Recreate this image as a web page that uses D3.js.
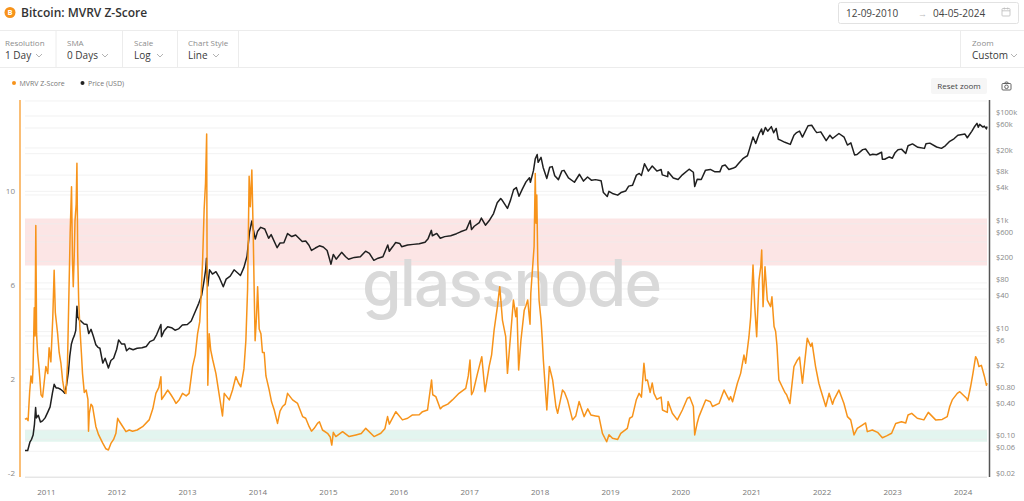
<!DOCTYPE html>
<html>
<head>
<meta charset="utf-8">
<script src="https://cdn.jsdelivr.net/npm/d3@7"></script>
<style>
  body { margin: 0; background: #fff; font-family: "Open Sans", "Noto Sans", sans-serif; }
  svg { display: block; }
</style>
</head>
<body>
<div id="chart"></div>
<script>
// MVRV Z-Score (left axis)
const zScoreData = [
  ["2010-09-12",0.45],["2010-09-20",0.5],["2010-09-28",0.4],["2010-10-06",1.6],["2010-10-13",2.3],
  ["2010-10-20",2.0],["2010-10-24",2.7],["2010-10-30",5.2],["2010-11-03",4.0],["2010-11-07",8.7],
  ["2010-11-11",4.1],["2010-11-16",3.3],["2010-11-24",2.6],["2010-12-04",1.5],["2010-12-12",1.4],
  ["2010-12-20",2.0],["2010-12-29",2.7],["2011-01-08",2.4],["2011-01-15",3.5],["2011-01-24",2.9],
  ["2011-02-03",4.8],["2011-02-10",6.8],["2011-02-16",5.0],["2011-02-28",4.1],["2011-03-08",3.3],
  ["2011-03-17",2.85],["2011-03-26",2.1],["2011-04-03",1.7],["2011-04-12",1.55],["2011-04-20",2.8],
  ["2011-04-26",5.2],["2011-05-04",8.4],["2011-05-11",10.35],["2011-05-16",7.2],["2011-05-20",6.1],
  ["2011-05-25",7.4],["2011-05-29",8.9],["2011-06-04",9.6],["2011-06-08",11.35],["2011-06-12",7.5],
  ["2011-06-17",5.5],["2011-06-23",4.4],["2011-07-01",3.3],["2011-07-07",2.4],["2011-07-16",1.6],
  ["2011-07-26",1.7],["2011-08-04",1.3],["2011-08-07",-0.05],["2011-08-11",0.7],["2011-08-20",1.1],
  ["2011-08-28",1.0],["2011-09-05",0.6],["2011-09-14",0.15],["2011-09-28",-0.2],["2011-10-19",-0.55],
  ["2011-11-05",-0.8],["2011-11-18",-0.85],["2011-12-01",-0.57],["2011-12-15",-0.4],["2011-12-27",-0.14],
  ["2012-01-05",0.5],["2012-01-15",0.35],["2012-01-31",0.15],["2012-02-17",-0.07],["2012-03-05",0.0],
  ["2012-03-22",-0.05],["2012-04-15",0.0],["2012-05-13",0.14],["2012-06-16",0.43],["2012-07-05",0.9],
  ["2012-07-21",1.56],["2012-08-05",1.8],["2012-08-16",2.27],["2012-08-20",1.3],["2012-09-05",1.5],
  ["2012-09-20",1.7],["2012-10-07",1.5],["2012-10-22",1.3],["2012-11-02",1.13],["2012-11-20",1.3],
  ["2012-12-06",1.56],["2012-12-25",1.45],["2013-01-09",1.56],["2013-01-27",2.7],["2013-02-10",3.2],
  ["2013-02-22",4.1],["2013-03-05",4.6],["2013-03-11",5.5],["2013-03-20",7.2],["2013-03-28",9.4],
  ["2013-04-04",10.5],["2013-04-10",12.6],["2013-04-13",5.0],["2013-04-16",1.9],["2013-04-23",4.1],
  ["2013-05-01",3.4],["2013-05-11",3.0],["2013-05-28",2.4],["2013-06-12",1.6],["2013-07-01",0.6],
  ["2013-07-10",1.56],["2013-07-25",1.4],["2013-08-05",1.28],["2013-08-22",1.7],["2013-09-08",2.27],
  ["2013-09-22",2.0],["2013-10-04",1.84],["2013-10-20",2.6],["2013-10-30",3.8],["2013-11-08",6.0],
  ["2013-11-16",10.8],["2013-11-22",9.5],["2013-11-30",11.06],["2013-12-07",8.4],["2013-12-12",6.0],
  ["2013-12-17",3.8],["2013-12-24",4.8],["2013-12-30",6.1],["2014-01-07",4.3],["2014-01-16",4.1],
  ["2014-01-24",3.3],["2014-02-02",3.3],["2014-02-11",2.3],["2014-02-28",1.7],["2014-03-12",1.2],
  ["2014-03-26",0.85],["2014-04-12",0.28],["2014-04-25",0.8],["2014-05-08",1.0],["2014-05-22",1.1],
  ["2014-06-03",1.56],["2014-06-29",1.28],["2014-07-25",1.13],["2014-08-20",0.57],["2014-09-05",0.5],
  ["2014-09-23",0.14],["2014-10-05",-0.05],["2014-10-19",0.07],["2014-11-05",0.28],["2014-11-15",0.35],
  ["2014-12-01",0.0],["2014-12-27",-0.14],["2015-01-10",-0.3],["2015-01-18",-0.64],["2015-01-26",-0.1],
  ["2015-02-08",-0.28],["2015-03-15",-0.07],["2015-04-18",-0.28],["2015-05-23",-0.21],["2015-06-20",-0.15],
  ["2015-07-13",0.07],["2015-08-25",-0.28],["2015-09-29",-0.14],["2015-10-20",0.05],["2015-11-03",0.57],
  ["2015-11-12",0.25],["2015-12-16",0.78],["2016-01-19",0.43],["2016-02-15",0.5],["2016-03-11",0.64],
  ["2016-04-15",0.65],["2016-05-02",0.78],["2016-05-28",0.85],["2016-06-18",2.13],["2016-06-24",1.5],
  ["2016-07-10",1.42],["2016-08-02",0.9],["2016-08-14",1.0],["2016-09-10",1.1],["2016-10-04",1.28],
  ["2016-11-07",1.56],["2016-12-12",1.77],["2016-12-25",2.3],["2017-01-03",2.98],["2017-01-11",1.5],
  ["2017-01-20",1.65],["2017-02-11",2.41],["2017-03-05",3.12],["2017-03-22",1.63],["2017-04-12",2.7],
  ["2017-04-25",3.2],["2017-05-08",4.26],["2017-05-25",5.25],["2017-06-06",6.1],["2017-06-12",5.5],
  ["2017-06-20",4.68],["2017-07-07",3.97],["2017-07-16",2.41],["2017-07-24",3.2],["2017-08-02",4.11],
  ["2017-08-16",5.53],["2017-08-22",5.2],["2017-08-28",4.82],["2017-09-03",5.2],["2017-09-12",2.55],
  ["2017-09-24",3.83],["2017-10-11",5.1],["2017-10-20",5.3],["2017-10-29",5.53],["2017-11-06",4.82],
  ["2017-11-10",4.5],["2017-11-14",5.82],["2017-11-26",7.23],["2017-12-01",7.8],["2017-12-07",10.92],
  ["2017-12-11",8.8],["2017-12-15",10.0],["2017-12-20",7.2],["2017-12-27",5.5],["2018-01-06",4.68],
  ["2018-01-12",3.9],["2018-01-18",2.98],["2018-02-05",0.85],["2018-02-18",2.7],["2018-03-07",2.13],
  ["2018-03-24",1.0],["2018-04-02",0.71],["2018-04-27",1.7],["2018-05-08",1.6],["2018-05-23",1.28],
  ["2018-06-18",0.43],["2018-07-05",0.6],["2018-07-22",1.21],["2018-08-17",0.57],["2018-09-05",0.9],
  ["2018-09-21",0.64],["2018-10-15",0.6],["2018-11-02",0.57],["2018-11-20",-0.14],["2018-12-12",-0.5],
  ["2018-12-24",-0.2],["2019-01-11",-0.35],["2019-02-07",-0.4],["2019-02-23",-0.14],["2019-03-29",0.07],
  ["2019-04-10",0.5],["2019-04-24",0.57],["2019-05-15",1.3],["2019-05-29",1.56],["2019-06-10",1.4],
  ["2019-06-23",2.84],["2019-07-02",2.1],["2019-07-11",2.13],["2019-07-25",1.6],["2019-08-05",2.0],
  ["2019-08-14",1.56],["2019-08-29",1.3],["2019-09-20",1.4],["2019-09-27",0.85],["2019-10-22",0.75],
  ["2019-10-26",1.21],["2019-11-17",0.71],["2019-12-13",0.43],["2020-01-08",0.85],["2020-02-03",1.35],
  ["2020-02-15",1.4],["2020-03-05",1.0],["2020-03-12",-0.21],["2020-03-25",0.3],["2020-04-03",0.57],
  ["2020-05-08",1.28],["2020-06-01",1.2],["2020-06-12",1.0],["2020-07-16",1.13],["2020-08-11",1.7],
  ["2020-09-06",1.28],["2020-09-14",1.42],["2020-09-24",1.2],["2020-10-19",1.99],["2020-11-05",2.41],
  ["2020-11-22",3.19],["2020-12-01",2.84],["2020-12-18",3.97],["2020-12-27",4.82],["2021-01-08",7.02],
  ["2021-01-17",5.25],["2021-01-27",3.97],["2021-02-08",6.38],["2021-02-17",6.95],["2021-02-22",7.66],
  ["2021-03-01",5.25],["2021-03-11",6.95],["2021-03-23",5.53],["2021-04-09",5.25],["2021-04-16",5.67],
  ["2021-04-27",4.4],["2021-05-05",4.2],["2021-05-12",3.6],["2021-05-22",2.13],["2021-06-08",1.84],
  ["2021-06-22",1.6],["2021-07-01",1.5],["2021-07-18",1.13],["2021-08-08",2.7],["2021-08-26",2.98],
  ["2021-09-06",3.1],["2021-09-21",1.99],["2021-10-16",3.9],["2021-11-03",3.55],["2021-11-10",3.7],
  ["2021-11-28",2.7],["2021-12-15",1.99],["2021-12-25",1.7],
  ["2022-01-20",1.0],["2022-02-06",1.56],["2022-02-24",1.1],["2022-03-03",1.28],["2022-03-29",1.7],
  ["2022-04-24",1.13],["2022-05-12",0.57],["2022-05-29",0.43],["2022-06-15",-0.21],["2022-07-02",0.07],
  ["2022-07-28",0.21],["2022-08-14",0.3],["2022-08-23",-0.07],["2022-09-18",0.0],["2022-10-15",-0.1],
  ["2022-11-09",-0.33],["2022-12-01",-0.25],["2022-12-27",-0.14],["2023-01-17",0.28],["2023-02-16",0.35],
  ["2023-03-10",0.3],["2023-03-22",0.64],["2023-04-10",0.71],["2023-05-09",0.5],["2023-06-12",0.43],
  ["2023-07-05",0.75],["2023-08-12",0.43],["2023-09-15",0.45],["2023-10-11",0.57],["2023-10-24",1.0],
  ["2023-11-06",1.28],["2023-12-02",1.56],["2023-12-15",1.63],["2024-01-19",1.35],["2024-01-25",1.25],
  ["2024-02-09",1.84],["2024-02-21",2.4],["2024-03-06",3.12],["2024-03-14",3.0],["2024-03-23",2.7],
  ["2024-04-05",2.75],["2024-04-20",2.3],["2024-05-01",1.9],["2024-05-04",2.0]
];

// BTC price in USD (right log axis)
const priceData = [
  ["2010-09-12",0.062],["2010-09-26",0.062],["2010-10-08",0.09],["2010-10-16",0.10],["2010-10-24",0.12],
  ["2010-10-31",0.19],["2010-11-06",0.39],["2010-11-10",0.25],["2010-11-20",0.28],["2010-12-01",0.21],
  ["2010-12-12",0.22],["2010-12-25",0.25],["2011-01-08",0.32],["2011-01-20",0.40],["2011-02-01",0.72],
  ["2011-02-10",1.05],["2011-02-20",0.90],["2011-03-01",0.90],["2011-03-15",0.85],["2011-03-28",0.78],
  ["2011-04-05",0.72],["2011-04-15",1.0],["2011-04-25",1.8],["2011-05-02",3.5],["2011-05-10",5.8],
  ["2011-05-18",7.3],["2011-05-26",8.5],["2011-06-02",10.5],["2011-06-08",29.6],["2011-06-12",19.0],
  ["2011-06-20",16.5],["2011-07-01",15.4],["2011-07-15",13.8],["2011-07-30",13.5],["2011-08-08",9.2],
  ["2011-08-20",11.0],["2011-09-01",8.2],["2011-09-14",5.7],["2011-09-25",5.1],["2011-10-05",4.9],
  ["2011-10-20",2.6],["2011-11-01",3.2],["2011-11-18",2.1],["2011-12-01",2.9],["2011-12-15",3.2],
  ["2011-12-31",4.7],["2012-01-10",7.0],["2012-01-25",5.9],["2012-02-10",5.9],["2012-02-20",4.4],
  ["2012-03-05",4.9],["2012-03-25",4.6],["2012-04-15",4.9],["2012-05-10",5.0],["2012-06-01",5.3],
  ["2012-06-20",6.5],["2012-07-10",7.0],["2012-07-25",8.8],["2012-08-16",13.5],["2012-08-19",8.0],
  ["2012-09-01",10.2],["2012-09-20",12.3],["2012-10-10",11.8],["2012-10-28",10.6],["2012-11-15",11.2],
  ["2012-12-05",13.2],["2012-12-31",13.5],["2013-01-20",15.7],["2013-02-10",23.5],["2013-02-28",33.4],
  ["2013-03-15",47],["2013-03-28",90],["2013-04-05",142],["2013-04-09",230],["2013-04-12",100],
  ["2013-04-16",70],["2013-04-25",140],["2013-05-10",117],["2013-05-28",129],["2013-06-15",100],
  ["2013-07-05",68],["2013-07-20",94],["2013-08-10",107],["2013-08-30",140],["2013-09-15",125],
  ["2013-10-02",110],["2013-10-20",155],["2013-11-05",250],["2013-11-18",700],["2013-11-30",1130],
  ["2013-12-07",800],["2013-12-18",520],["2013-12-30",730],["2014-01-15",860],["2014-02-05",800],
  ["2014-02-25",540],["2014-03-10",630],["2014-04-10",360],["2014-04-25",440],["2014-05-15",445],
  ["2014-06-03",660],["2014-06-25",580],["2014-07-15",620],["2014-08-18",470],["2014-09-05",480],
  ["2014-09-22",400],["2014-10-05",320],["2014-10-25",355],["2014-11-15",390],["2014-12-05",370],
  ["2014-12-25",320],["2015-01-14",178],["2015-01-26",270],["2015-02-10",220],["2015-03-10",295],
  ["2015-03-31",245],["2015-04-15",220],["2015-05-15",238],["2015-06-15",245],["2015-07-12",310],
  ["2015-08-01",282],["2015-08-24",210],["2015-09-15",230],["2015-10-10",245],["2015-11-04",405],
  ["2015-11-12",310],["2015-11-30",378],["2015-12-15",450],["2016-01-05",432],["2016-01-15",375],
  ["2016-02-15",405],["2016-03-15",415],["2016-04-15",428],["2016-05-15",455],["2016-05-31",530],
  ["2016-06-17",755],["2016-06-22",600],["2016-07-15",662],["2016-08-02",540],["2016-08-25",578],
  ["2016-09-25",602],["2016-10-25",655],["2016-11-15",710],["2016-12-15",780],["2017-01-04",1150],
  ["2017-01-11",780],["2017-01-25",900],["2017-02-20",1050],["2017-03-03",1280],["2017-03-24",940],
  ["2017-04-15",1180],["2017-05-05",1550],["2017-05-24",2450],["2017-06-11",2950],["2017-06-20",2700],
  ["2017-07-16",1930],["2017-08-01",2750],["2017-08-17",4300],["2017-08-31",4700],["2017-09-14",3250],
  ["2017-10-01",4400],["2017-10-20",6000],["2017-11-07",7150],["2017-11-12",5900],["2017-11-28",9800],
  ["2017-12-07",16000],["2017-12-17",19300],["2017-12-22",13800],["2018-01-06",17100],["2018-01-17",11100],
  ["2018-02-05",6950],["2018-02-20",11200],["2018-03-05",11500],["2018-03-18",7800],["2018-04-06",6600],
  ["2018-04-24",9600],["2018-05-05",9800],["2018-05-28",7100],["2018-06-28",5900],["2018-07-24",8300],
  ["2018-08-14",6200],["2018-09-04",7400],["2018-09-25",6400],["2018-10-15",6600],["2018-11-13",6300],
  ["2018-11-25",3800],["2018-12-15",3200],["2018-12-24",4000],["2019-01-15",3600],["2019-02-07",3400],
  ["2019-02-24",3800],["2019-03-20",4050],["2019-04-05",5000],["2019-04-25",5200],["2019-05-15",8000],
  ["2019-05-30",8600],["2019-06-10",7900],["2019-06-26",13000],["2019-07-16",9500],["2019-08-05",11800],
  ["2019-08-29",9500],["2019-09-20",10200],["2019-09-26",8100],["2019-10-24",7500],["2019-10-26",9250],
  ["2019-11-22",7100],["2019-12-17",6650],["2020-01-08",8100],["2020-02-12",10300],["2020-03-05",9050],
  ["2020-03-12",4900],["2020-03-25",6700],["2020-04-15",6650],["2020-05-07",9900],["2020-06-01",10200],
  ["2020-06-25",9200],["2020-07-20",9200],["2020-08-01",11800],["2020-08-17",12300],["2020-09-05",10200],
  ["2020-09-25",10700],["2020-10-10",11300],["2020-10-25",13100],["2020-11-15",16000],["2020-11-26",17100],
  ["2020-12-10",18300],["2020-12-20",23800],["2021-01-08",40800],["2021-01-22",30800],["2021-02-08",46400],
  ["2021-02-21",57500],["2021-02-28",45200],["2021-03-13",61200],["2021-03-25",52300],["2021-04-13",63500],
  ["2021-04-25",49000],["2021-05-08",58800],["2021-05-19",37000],["2021-05-30",35700],["2021-06-22",32500],
  ["2021-07-20",29800],["2021-08-08",44000],["2021-08-22",49300],["2021-09-06",52600],["2021-09-21",40700],
  ["2021-10-20",66000],["2021-11-08",67500],["2021-11-26",53600],["2021-12-04",49200],["2021-12-25",50800],
  ["2022-01-22",35000],["2022-02-10",44000],["2022-02-24",38300],["2022-03-29",47400],["2022-04-25",40400],
  ["2022-05-12",28900],["2022-05-30",31700],["2022-06-18",19000],["2022-07-01",19300],["2022-07-30",23800],
  ["2022-08-14",24400],["2022-09-06",18800],["2022-09-20",19500],["2022-10-10",19100],["2022-11-05",21300],
  ["2022-11-09",15800],["2022-11-21",15800],["2022-12-15",17400],["2022-12-31",16500],["2023-01-14",20900],
  ["2023-01-29",23700],["2023-02-16",24300],["2023-03-10",20200],["2023-03-22",28100],["2023-04-14",30400],
  ["2023-05-12",26300],["2023-06-15",25100],["2023-06-23",30700],["2023-07-13",31400],["2023-08-17",26600],
  ["2023-09-11",25100],["2023-10-01",28000],["2023-10-24",33900],["2023-11-15",37800],["2023-12-05",44000],
  ["2024-01-11",46300],["2024-01-23",39500],["2024-02-15",52000],["2024-02-28",62500],["2024-03-13",73100],
  ["2024-03-20",62000],["2024-03-27",69900],["2024-04-13",62300],["2024-04-20",64900],["2024-05-01",57700],
  ["2024-05-04",63900]
];

const zTicks = [-2, 2, 6, 10];
const priceTicks = [0.02, 0.06, 0.1, 0.4, 0.8, 2, 6, 10, 40, 80, 200, 600, 1000, 4000, 8000, 20000, 60000, 100000];
const yearTicks = d3.range(2011, 2025);
const redBand = [7, 9];
const greenBand = [-0.5, 0];

const parse = d3.timeParse("%Y-%m-%d");
const zSeries = zScoreData.map(d => ({ date: parse(d[0]), v: d[1] }));
const pSeries = priceData.map(d => ({ date: parse(d[0]), v: d[1] }));

const W = 1024, H = 501;
const plot = { left: 25, right: 987, top: 101, bottom: 477 };

const svg = d3.select("#chart").append("svg")
  .attr("width", W).attr("height", H)
  .style("font-family", '"Open Sans", "Noto Sans", sans-serif');

const x = d3.scaleTime()
  .domain([parse("2010-09-12"), parse("2024-05-04")])
  .range([plot.left, plot.right]);
const yZ = d3.scaleLinear().domain([-2, 14]).range([plot.bottom, plot.top]);
const yP = d3.scaleLog().domain([0.02, 190000]).range([plot.bottom, plot.top]);

// ---------- header ----------
svg.append("circle").attr("cx", 10).attr("cy", 12.5).attr("r", 5.5).attr("fill", "#f7931a");
svg.append("text").attr("x", 10).attr("y", 15.3).attr("text-anchor", "middle")
  .attr("font-size", 7.5).attr("font-weight", 700).attr("fill", "#fff").text("B");
svg.append("text").attr("x", 21).attr("y", 17).attr("font-size", 12).attr("font-weight", 600)
  .attr("fill", "#333").text("Bitcoin: MVRV Z-Score");

// date range box
svg.append("rect").attr("x", 838.5).attr("y", 2.5).attr("width", 180).attr("height", 21)
  .attr("fill", "#fff").attr("stroke", "#e2e2e2").attr("rx", 2);
svg.append("text").attr("x", 846).attr("y", 16.5).attr("font-size", 10).attr("fill", "#444").text("12-09-2010");
svg.append("text").attr("x", 918).attr("y", 16.5).attr("font-size", 9).attr("fill", "#bbb").text("→");
svg.append("text").attr("x", 933).attr("y", 16.5).attr("font-size", 10).attr("fill", "#444").text("04-05-2024");
const cal = svg.append("g").attr("transform", "translate(1002,8.5)").attr("fill", "none").attr("stroke", "#bbb").attr("stroke-width", 0.8);
cal.append("rect").attr("width", 8).attr("height", 7.5).attr("rx", 0.8);
cal.append("line").attr("x1", 0).attr("x2", 8).attr("y1", 2.3).attr("y2", 2.3);
cal.append("line").attr("x1", 2.3).attr("x2", 2.3).attr("y1", -1).attr("y2", 1);
cal.append("line").attr("x1", 5.7).attr("x2", 5.7).attr("y1", -1).attr("y2", 1);

// controls row
svg.append("line").attr("x1", 0).attr("x2", W).attr("y1", 30.5).attr("y2", 30.5).attr("stroke", "#ececec");
svg.append("line").attr("x1", 0).attr("x2", W).attr("y1", 67.5).attr("y2", 67.5).attr("stroke", "#ececec");
[56, 122.5, 177.5, 238.5, 960.5].forEach(sx => {
  svg.append("line").attr("x1", sx).attr("x2", sx).attr("y1", 30.5).attr("y2", 67.5).attr("stroke", "#ececec");
});

const controls = [
  { label: "Resolution", value: "1 Day", x: 5, chev: 39 },
  { label: "SMA", value: "0 Days", x: 67, chev: 105 },
  { label: "Scale", value: "Log", x: 134, chev: 160 },
  { label: "Chart Style", value: "Line", x: 188, chev: 216 },
  { label: "Zoom", value: "Custom", x: 972, chev: 1014 }
];
controls.forEach(c => {
  svg.append("text").attr("x", c.x).attr("y", 45.5).attr("font-size", 8).attr("fill", "#8c8c8c").text(c.label);
  svg.append("text").attr("x", c.x).attr("y", 59).attr("font-size", 10).attr("fill", "#3a3a3a").text(c.value);
  svg.append("path").attr("d", `M${c.chev - 3},54 L${c.chev},57 L${c.chev + 3},54`)
    .attr("fill", "none").attr("stroke", "#aaa").attr("stroke-width", 0.9);
});

// legend
svg.append("circle").attr("cx", 14).attr("cy", 83).attr("r", 2).attr("fill", "#f7931a");
svg.append("text").attr("x", 19.5).attr("y", 85.5).attr("font-size", 7).attr("fill", "#777").text("MVRV Z-Score");
svg.append("circle").attr("cx", 82.5).attr("cy", 83).attr("r", 2).attr("fill", "#222");
svg.append("text").attr("x", 88).attr("y", 85.5).attr("font-size", 7).attr("fill", "#777").text("Price (USD)");

// reset zoom + camera
svg.append("rect").attr("x", 931).attr("y", 78).attr("width", 56).attr("height", 16).attr("rx", 2).attr("fill", "#f6f6f6");
svg.append("text").attr("x", 959).attr("y", 89).attr("text-anchor", "middle").attr("font-size", 8).attr("fill", "#444").text("Reset zoom");
const cam = svg.append("g").attr("transform", "translate(1002,82)").attr("fill", "none").attr("stroke", "#555").attr("stroke-width", 0.9);
cam.append("rect").attr("x", 0).attr("y", 1.5).attr("width", 9).attr("height", 6.5).attr("rx", 1);
cam.append("circle").attr("cx", 4.5).attr("cy", 4.8).attr("r", 1.8);
cam.append("path").attr("d", "M2.5,1.5 L3.5,0 L5.5,0 L6.5,1.5");

// ---------- plot ----------
const bands = svg.append("g");
bands.append("rect").attr("x", plot.left).attr("width", plot.right - plot.left)
  .attr("y", yZ(redBand[1])).attr("height", yZ(redBand[0]) - yZ(redBand[1]))
  .attr("fill", "#fbdcdc").attr("opacity", 0.75);
bands.append("rect").attr("x", plot.left).attr("width", plot.right - plot.left)
  .attr("y", yZ(greenBand[1])).attr("height", yZ(greenBand[0]) - yZ(greenBand[1]))
  .attr("fill", "#d9f1ea").attr("opacity", 0.75);

// gridlines
const grid = svg.append("g").attr("stroke", "#ececec").attr("stroke-width", 0.7);
priceTicks.forEach(t => {
  grid.append("line").attr("x1", plot.left).attr("x2", plot.right).attr("y1", yP(t)).attr("y2", yP(t));
});
d3.range(-2, 15, 2).forEach(t => {
  grid.append("line").attr("x1", plot.left).attr("x2", plot.right).attr("y1", yZ(t)).attr("y2", yZ(t));
});

// watermark
svg.append("text").attr("x", 512).attr("y", 306).attr("text-anchor", "middle")
  .attr("font-family", "Inter, Lato, sans-serif").attr("font-size", 64).attr("font-weight", 500)
  .attr("textLength", 300).attr("fill", "#d9d9d9").text("glassnode");

// series
const priceLine = d3.line().x(d => x(d.date)).y(d => yP(d.v));
const zLine = d3.line().x(d => x(d.date)).y(d => yZ(d.v));

svg.append("path").datum(pSeries).attr("d", priceLine)
  .attr("fill", "none").attr("stroke", "#1f1f1f").attr("stroke-width", 1.5).attr("stroke-linejoin", "round");
svg.append("path").datum(zSeries).attr("d", zLine)
  .attr("fill", "none").attr("stroke", "#f7931a").attr("stroke-width", 1.5).attr("stroke-linejoin", "round");

// left axis
svg.append("line").attr("x1", 20).attr("x2", 20).attr("y1", plot.top - 1).attr("y2", plot.bottom)
  .attr("stroke", "#f7931a").attr("stroke-width", 1.2);
svg.append("g").selectAll("text").data(zTicks).join("text")
  .attr("x", 15).attr("y", d => yZ(d) - 1).attr("text-anchor", "end")
  .attr("font-size", 8).attr("fill", "#888").text(d => d);

// right axis
svg.append("line").attr("x1", 989.5).attr("x2", 989.5).attr("y1", plot.top - 1).attr("y2", plot.bottom)
  .attr("stroke", "#555").attr("stroke-width", 1.5);
const fmtPrice = v => v >= 1000 ? "$" + (v / 1000) + "k" : v >= 1 ? "$" + v : "$" + v.toFixed(2);
svg.append("g").selectAll("text").data(priceTicks).join("text")
  .attr("x", 996).attr("y", d => yP(d) - 1)
  .attr("font-size", 7.5).attr("fill", "#888").text(fmtPrice);

// x axis
svg.append("line").attr("x1", plot.left).attr("x2", plot.right).attr("y1", plot.bottom + 0.5).attr("y2", plot.bottom + 0.5)
  .attr("stroke", "#e6e6e6");
svg.append("g").selectAll("text").data(yearTicks).join("text")
  .attr("x", d => x(new Date(d, 0, 1))).attr("y", 495).attr("text-anchor", "middle")
  .attr("font-size", 8).attr("fill", "#777").text(d => d);
</script>
</body>
</html>
